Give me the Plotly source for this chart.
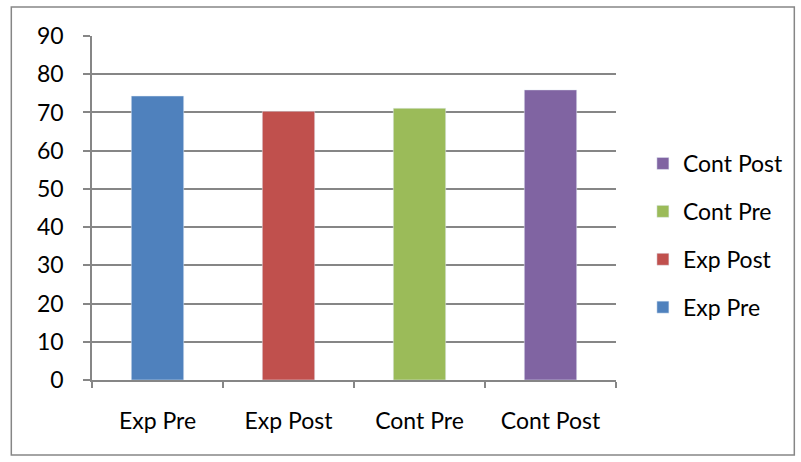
import plotly.graph_objects as go

# Mean scores per group
categories = ["Exp Pre", "Exp Post", "Cont Pre", "Cont Post"]
scores = [74.3, 70.3, 71.1, 75.9]
colors = ["#4F81BD", "#C0504D", "#9BBB59", "#8064A2"]
y_ticks = [0, 10, 20, 30, 40, 50, 60, 70, 80, 90]

GRID = "#868686"
FONT = "Lato, 'Open Sans', sans-serif"

fig = go.Figure()
# Traces added last-to-first so the legend lists Cont Post at the top
for cat, val, col in reversed(list(zip(categories, scores, colors))):
    fig.add_trace(go.Bar(
        x=[cat], y=[val], name=cat, marker_color=col,
        width=0.4, legendgroup=cat,
    ))

# Outer chart frame
px_l, px_r, px_t, px_b = 92, 618, 36, 380
pw, ph = px_r - px_l, px_b - px_t
fig.add_shape(
    type="rect", xref="paper", yref="paper",
    x0=(11 - px_l) / pw, x1=(797 - px_l) / pw,
    y0=(px_b - 455) / ph, y1=(px_b - 7) / ph,
    line=dict(color=GRID, width=1.5), fillcolor="rgba(0,0,0,0)", layer="below",
)

fig.update_layout(
    width=801, height=462,
    margin=dict(l=px_l, r=801 - px_r, t=px_t, b=462 - px_b),
    paper_bgcolor="white", plot_bgcolor="white",
    barmode="overlay",
    font=dict(family=FONT, size=23, color="#000000"),
    showlegend=True,
    legend=dict(
        traceorder="grouped", x=(645 - px_l) / pw, y=(px_b - 235.5) / ph,
        xanchor="left", yanchor="middle",
        tracegroupgap=15, font=dict(size=23), bgcolor="rgba(0,0,0,0)",
        itemwidth=30,
    ),
    xaxis=dict(
        categoryorder="array", categoryarray=categories,
        showline=True, linecolor=GRID, linewidth=1.5,
        ticks="outside", tickson="boundaries", ticklen=6, tickcolor=GRID, tickwidth=1.5,
        showgrid=False, ticklabelstandoff=20, fixedrange=True,
    ),
    yaxis=dict(
        range=[0, 90], tickvals=y_ticks, showline=True, linecolor=GRID, linewidth=1.5,
        ticks="outside", ticklen=7, tickcolor=GRID, tickwidth=1.5,
        showgrid=True, gridcolor=GRID, gridwidth=1.5, zeroline=False,
        ticklabelstandoff=15, fixedrange=True,
    ),
)

fig.write_html("out.html")
